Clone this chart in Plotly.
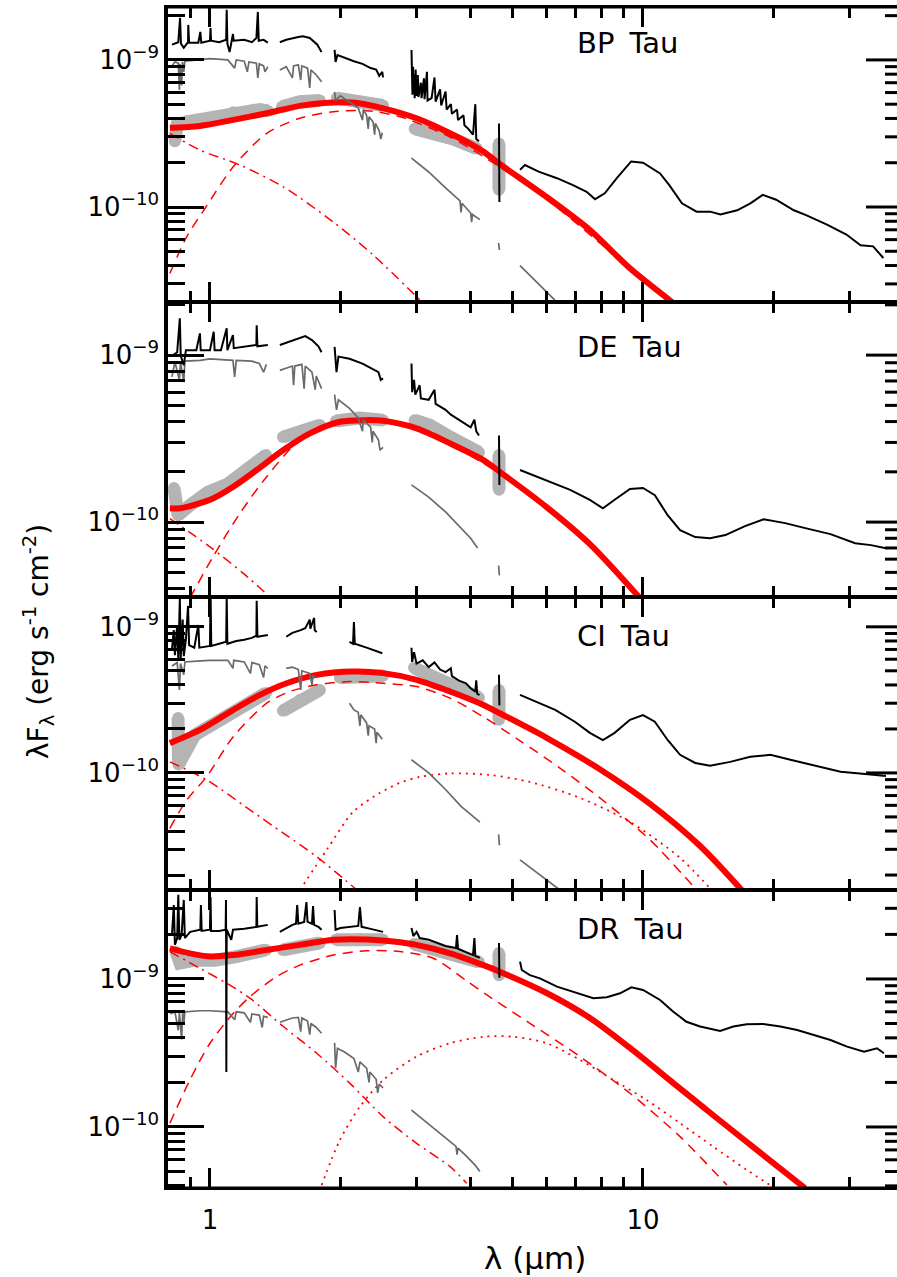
import math
import plotly.graph_objects as go
from plotly.subplots import make_subplots

# ---------------------------------------------------------------------------
# Spectral energy distributions of four T Tauri stars.
# Wavelength in micron, lambda*F_lambda in erg s^-1 cm^-2.
# Series are lists of (wavelength, flux) pairs; None breaks a line.
# ---------------------------------------------------------------------------
STARS = ["BP Tau", "DE Tau", "CI Tau", "DR Tau"]

WL_LIMITS = (0.8, 38.6)
FLUX_LIMITS = [(2.26e-11, 2.29e-9), (3.56e-11, 2.08e-9), (1.58e-11, 1.60e-9), (3.87e-11, 3.99e-9)]

X_MAJOR = [1, 10]
X_MAJOR_TEXT = ["1", "10"]
X_MINOR = [0.9, 2, 3, 4, 5, 6, 7, 8, 9, 20, 30]
Y_MAJOR = [1e-10, 1e-9]
Y_MAJOR_TEXT = ["10<sup>\u221210</sup>", "10<sup>\u22129</sup>"]

# ----------------------------- BP Tau --------------------------------------
BP_OBS = [
    (0.817, 1.27e-9), (0.845, 1.32e-9), (0.853, 1.93e-9), (0.857, 1.29e-9), (0.87, 1.21e-9),
    (0.89, 1.32e-9), (0.891, 1.73e-9), (0.895, 1.31e-9), (0.94, 1.31e-9), (0.95, 1.55e-9),
    (0.955, 1.31e-9), (1.0, 1.35e-9), (1.003, 1.65e-9), (1.006, 1.35e-9), (1.05, 1.32e-9),
    (1.09, 1.37e-9), (1.093, 2.19e-9), (1.097, 1.29e-9), (1.11, 1.13e-9), (1.12, 1.35e-9),
    (1.13, 1.50e-9), (1.135, 1.35e-9), (1.2, 1.37e-9), (1.25, 1.32e-9), (1.28, 1.41e-9),
    (1.29, 2.12e-9), (1.296, 1.35e-9), (1.33, 1.37e-9), (1.36, 1.31e-9),
    None,
    (1.45, 1.32e-9), (1.5, 1.37e-9), (1.6, 1.43e-9), (1.64, 1.45e-9), (1.7, 1.41e-9),
    (1.77, 1.27e-9), (1.81, 1.13e-9),
    None,
    (1.94, 1.17e-9), (1.95, 9.7e-10), (1.97, 1.08e-9), (2.05, 1.03e-9), (2.15, 9.8e-10),
    (2.25, 9.4e-10), (2.35, 8.8e-10), (2.42, 8.6e-10), (2.46, 7.8e-10), (2.5, 8.3e-10), (2.51, 7.6e-10),
    None,
    (2.92, 1.17e-9), (2.925, 6.2e-10), (2.93, 1.05e-9), (2.935, 5.8e-10), (2.945, 9.0e-10),
    (2.95, 6.0e-10), (2.96, 8.0e-10), (2.97, 5.5e-10), (2.985, 8.6e-10), (3.0, 5.7e-10),
    (3.02, 7.9e-10), (3.03, 5.6e-10), (3.07, 7.0e-10), (3.08, 5.5e-10), (3.12, 7.5e-10),
    (3.13, 5.4e-10), (3.17, 8.3e-10), (3.18, 5.3e-10), (3.25, 5.5e-10), (3.3, 7.6e-10),
    (3.32, 5.2e-10), (3.4, 6.3e-10), (3.42, 4.9e-10), (3.5, 6.1e-10), (3.52, 4.6e-10),
    (3.6, 5.0e-10), (3.62, 4.3e-10), (3.72, 4.6e-10), (3.74, 3.9e-10), (3.85, 4.2e-10),
    (3.87, 3.6e-10), (3.95, 3.4e-10), (4.05, 3.1e-10), (4.1, 5.0e-10), (4.12, 2.9e-10), (4.18, 2.8e-10),
    None,
    (4.65, 3.7e-10), (4.66, 1.08e-10),
    None,
    (5.2, 1.79e-10), (5.34, 1.93e-10), (5.74, 1.74e-10), (6.33, 1.57e-10), (6.89, 1.41e-10),
    (7.41, 1.27e-10), (7.75, 1.13e-10), (8.16, 1.24e-10), (8.7, 1.57e-10), (9.39, 2.04e-10),
    (10.0, 2.0e-10), (10.95, 1.69e-10), (11.5, 1.41e-10), (12.3, 1.06e-10), (13.3, 9.3e-11),
    (14.3, 9.3e-11), (15.1, 8.9e-11), (16.5, 9.5e-11), (17.7, 1.06e-10), (18.9, 1.21e-10),
    (20.3, 1.12e-10), (22.3, 9.5e-11), (23.8, 8.8e-11), (26.6, 7.6e-11), (29.5, 6.5e-11),
    (31.8, 5.5e-11), (34.0, 5.4e-11), (35.9, 4.5e-11),
]
BP_PHOT = [
    (0.817, 9.1e-10), (0.83, 9.7e-10), (0.845, 9.5e-10), (0.85, 6.25e-10), (0.853, 9.4e-10),
    (0.86, 6.7e-10), (0.864, 9.7e-10), (0.87, 8.3e-10), (0.875, 9.8e-10), (0.95, 1.0e-9),
    (1.0, 1.02e-9), (1.1, 1.0e-9), (1.14, 8.8e-10), (1.15, 1.0e-9), (1.2, 9.8e-10),
    (1.22, 8.3e-10), (1.23, 9.7e-10), (1.28, 9.5e-10), (1.29, 7.55e-10), (1.30, 9.4e-10),
    (1.33, 9.1e-10), (1.34, 8.3e-10), (1.36, 9.0e-10),
    None,
    (1.45, 8.55e-10), (1.5, 9.0e-10), (1.55, 7.55e-10), (1.56, 9.1e-10), (1.6, 9.25e-10),
    (1.62, 7.3e-10), (1.63, 9.1e-10), (1.68, 8.8e-10), (1.7, 6.45e-10), (1.71, 8.55e-10),
    (1.76, 7.9e-10), (1.81, 7.1e-10),
    None,
    (1.94, 6.05e-10), (1.95, 5.3e-10), (2.0, 5.7e-10), (2.1, 5.2e-10), (2.2, 4.7e-10),
    (2.25, 3.9e-10), (2.26, 4.6e-10), (2.3, 4.2e-10), (2.32, 3.4e-10), (2.33, 4.1e-10),
    (2.38, 3.8e-10), (2.4, 3.1e-10), (2.41, 3.7e-10), (2.46, 3.3e-10), (2.48, 2.9e-10), (2.5, 3.2e-10),
    None,
    (2.92, 2.15e-10), (3.2, 1.73e-10), (3.5, 1.35e-10), (3.78, 1.1e-10), (3.8, 9.2e-11),
    (3.82, 1.06e-10), (4.0, 9.1e-11), (4.02, 7.9e-11), (4.04, 8.9e-11), (4.2, 8.2e-11),
    None,
    (4.64, 5.7e-11), (4.66, 5.1e-11),
    None,
    (5.2, 4.0e-11), (6.26, 2.33e-11),
]
BP_EXCESS = [
    (0.83, 2.8e-10), (0.84, 3.6e-10), (0.884, 3.8e-10), (1.0, 4.05e-10), (1.132, 4.4e-10),
    (1.304, 4.6e-10), (1.361, 4.5e-10),
    None,
    (1.466, 4.8e-10), (1.613, 5.2e-10), (1.794, 5.3e-10),
    None,
    (1.963, 5.5e-10), (2.219, 5.2e-10), (2.51, 4.9e-10),
    None,
    (2.97, 3.4e-10), (3.27, 3.2e-10), (3.64, 2.9e-10), (4.13, 2.5e-10),
    None,
    (4.65, 2.7e-10), (4.651, 1.31e-10),
]
BP_TOTAL = [
    (0.808, 3.46e-10), (0.948, 3.56e-10), (1.132, 3.91e-10), (1.352, 4.34e-10), (1.613, 4.87e-10),
    (1.927, 5.13e-10), (2.141, 5.13e-10), (2.514, 4.69e-10), (3.0, 4.01e-10), (3.585, 3.17e-10),
    (4.28, 2.38e-10), (4.67, 1.96e-10), (5.99, 1.17e-10), (7.54, 6.98e-11), (9.33, 3.83e-11),
    (11.67, 2.26e-11),
]
BP_RIM = [
    (0.808, 3.54e-11), (0.884, 6.28e-11), (0.979, 1.0e-10), (1.132, 1.88e-10), (1.352, 3.17e-10),
    (1.613, 4.01e-10), (1.927, 4.45e-10), (2.30, 4.52e-10), (2.747, 4.11e-10), (3.585, 2.99e-10),
    (4.67, 1.87e-10), (5.99, 1.13e-10), (7.95, 5.69e-11), (11.67, 2.19e-11),
]
BP_HOT = [
    (0.808, 3.17e-10), (0.948, 2.44e-10), (1.173, 1.93e-10), (1.477, 1.37e-10), (1.927, 7.9e-11),
    (2.383, 4.71e-11), (3.055, 2.33e-11),
]
BP_COOL = []

# ----------------------------- DE Tau --------------------------------------
DE_OBS = [
    (0.817, 9.9e-10), (0.84, 1.04e-9), (0.852, 1.66e-9), (0.856, 9.9e-10), (0.87, 8.7e-10),
    (0.88, 1.07e-9), (0.93, 1.07e-9), (0.948, 1.35e-9), (0.952, 1.07e-9), (1.0, 1.07e-9),
    (1.02, 1.38e-9), (1.025, 1.07e-9), (1.06, 1.07e-9), (1.093, 1.45e-9), (1.097, 1.07e-9),
    (1.13, 1.32e-9), (1.135, 1.1e-9), (1.2, 1.12e-9), (1.28, 1.15e-9), (1.282, 1.51e-9),
    (1.287, 1.13e-9), (1.36, 1.15e-9),
    None,
    (1.45, 1.15e-9), (1.52, 1.2e-9), (1.6, 1.26e-9), (1.66, 1.3e-9), (1.72, 1.23e-9),
    (1.78, 1.13e-9), (1.81, 1.04e-9),
    None,
    (1.94, 1.12e-9), (1.96, 7.9e-10), (1.98, 9.8e-10), (2.1, 9.5e-10), (2.25, 8.9e-10),
    (2.4, 8.1e-10), (2.45, 7.9e-10), (2.48, 7.1e-10), (2.51, 7.25e-10),
    None,
    (2.92, 8.9e-10), (2.93, 6.0e-10), (2.96, 7.1e-10), (2.98, 5.8e-10), (3.05, 6.6e-10),
    (3.07, 5.5e-10), (3.2, 5.4e-10), (3.3, 6.2e-10), (3.32, 5.1e-10), (3.5, 4.7e-10),
    (3.6, 4.4e-10), (3.8, 4.0e-10), (4.0, 3.7e-10), (4.08, 4.1e-10), (4.12, 3.5e-10), (4.18, 3.3e-10),
    None,
    (4.65, 3.3e-10), (4.66, 1.67e-10),
    None,
    (5.2, 2.05e-10), (5.48, 1.94e-10), (6.1, 1.74e-10), (6.79, 1.56e-10), (7.54, 1.36e-10),
    (8.08, 1.21e-10), (8.6, 1.36e-10), (9.33, 1.58e-10), (10.0, 1.6e-10), (10.65, 1.45e-10),
    (11.4, 1.1e-10), (12.18, 8.95e-11), (13.2, 8.13e-11), (14.29, 8.0e-11), (15.5, 8.36e-11),
    (17.2, 9.46e-11), (19.0, 1.04e-10), (21.3, 9.86e-11), (23.7, 9.2e-11), (27.1, 8.47e-11),
    (30.9, 7.48e-11), (33.6, 7.28e-11), (36.4, 6.98e-11),
]
DE_PHOT = [
    (0.817, 7.4e-10), (0.83, 9.1e-10), (0.85, 7.1e-10), (0.855, 9.1e-10), (0.87, 6.9e-10),
    (0.875, 9.2e-10), (0.95, 9.3e-10), (1.0, 9.5e-10), (1.13, 9.3e-10), (1.14, 7.4e-10),
    (1.15, 9.3e-10), (1.25, 9.2e-10), (1.3, 8.9e-10), (1.33, 7.9e-10), (1.35, 8.8e-10),
    None,
    (1.45, 8.1e-10), (1.55, 8.6e-10), (1.56, 6.6e-10), (1.57, 8.6e-10), (1.63, 8.8e-10),
    (1.65, 6.3e-10), (1.66, 8.6e-10), (1.72, 7.9e-10), (1.75, 6.2e-10), (1.76, 7.5e-10), (1.81, 6.3e-10),
    None,
    (1.94, 5.8e-10), (1.96, 4.7e-10), (1.98, 5.4e-10), (2.1, 4.8e-10), (2.2, 4.2e-10),
    (2.25, 3.5e-10), (2.26, 4.1e-10), (2.35, 3.7e-10), (2.37, 3.0e-10), (2.38, 3.5e-10),
    (2.45, 3.1e-10), (2.47, 2.7e-10), (2.51, 2.8e-10),
    None,
    (2.92, 1.67e-10), (3.2, 1.41e-10), (3.5, 1.15e-10), (3.8, 9.2e-11), (4.0, 8.0e-11), (4.15, 7.0e-11),
    None,
    (4.64, 5.5e-11), (4.66, 4.8e-11),
]
DE_EXCESS = [
    (0.826, 1.6e-10), (0.844, 1.1e-10), (0.899, 1.26e-10), (0.989, 1.51e-10), (1.1, 1.69e-10),
    (1.224, 2.11e-10), (1.347, 2.52e-10),
    None,
    (1.474, 3.23e-10), (1.613, 3.46e-10), (1.794, 3.81e-10),
    None,
    (1.954, 4.03e-10), (2.219, 4.2e-10), (2.51, 4.08e-10),
    None,
    (2.97, 4.08e-10), (3.22, 3.81e-10), (3.585, 3.23e-10), (4.18, 2.62e-10),
    None,
    (4.65, 2.52e-10), (4.651, 1.56e-10),
]
DE_TOTAL = [
    (0.808, 1.21e-10), (0.853, 1.21e-10), (1.0, 1.36e-10), (1.132, 1.63e-10), (1.282, 2.05e-10),
    (1.477, 2.70e-10), (1.701, 3.40e-10), (1.996, 3.99e-10), (2.30, 4.08e-10), (2.514, 4.04e-10),
    (3.0, 3.64e-10), (3.585, 2.96e-10), (4.28, 2.35e-10), (4.67, 2.0e-10), (5.99, 1.23e-10),
    (7.54, 7.38e-11), (9.79, 3.56e-11),
]
DE_RIM = [
    (0.899, 3.51e-11), (1.018, 6.25e-11), (1.173, 1.13e-10), (1.352, 1.87e-10), (1.613, 3.1e-10),
    (1.927, 3.81e-10), (2.30, 4.03e-10), (3.0, 3.6e-10), (3.585, 2.91e-10), (4.67, 1.96e-10),
    (5.99, 1.21e-10), (7.54, 7.28e-11), (9.84, 3.5e-11),
]
DE_HOT = [
    (0.808, 1.05e-10), (1.0, 7.11e-11), (1.194, 4.93e-11), (1.376, 3.56e-11),
]
DE_COOL = []

# ----------------------------- CI Tau --------------------------------------
CI_OBS = [
    (0.817, 7.0e-10), (0.825, 9.5e-10), (0.83, 6.4e-10), (0.84, 1.03e-9), (0.845, 5.9e-10),
    (0.852, 1.58e-9), (0.856, 6.1e-10), (0.865, 1.12e-9), (0.87, 6.3e-10), (0.88, 8.2e-10),
    (0.89, 1.39e-9), (0.895, 7.5e-10), (0.92, 7.2e-10), (0.94, 1.03e-9), (0.945, 7.2e-10),
    (1.0, 7.4e-10), (1.003, 1.79e-9), (1.007, 7.4e-10), (1.05, 7.65e-10), (1.09, 7.9e-10),
    (1.093, 1.63e-9), (1.097, 7.65e-10), (1.15, 8.0e-10), (1.2, 8.15e-10), (1.25, 8.4e-10),
    (1.28, 8.7e-10), (1.282, 1.51e-9), (1.287, 8.55e-10), (1.36, 8.8e-10),
    None,
    (1.5, 8.55e-10), (1.55, 9.1e-10), (1.62, 9.5e-10), (1.66, 9.8e-10), (1.7, 1.12e-9),
    (1.705, 9.7e-10), (1.74, 1.15e-9), (1.745, 9.5e-10), (1.764, 9.2e-10),
    None,
    (2.1, 7.9e-10), (2.14, 7.65e-10), (2.15, 1.08e-9), (2.16, 7.65e-10), (2.3, 7.2e-10),
    (2.4, 6.85e-10), (2.5, 6.6e-10),
    None,
    (2.92, 7.2e-10), (2.93, 5.75e-10), (2.96, 6.7e-10), (3.0, 5.6e-10), (3.1, 5.9e-10),
    (3.2, 5.3e-10), (3.3, 5.7e-10), (3.4, 5.1e-10), (3.5, 4.9e-10), (3.6, 5.2e-10),
    (3.62, 4.6e-10), (3.75, 4.3e-10), (3.9, 4.1e-10), (4.0, 3.8e-10), (4.1, 3.6e-10),
    (4.12, 4.3e-10), (4.14, 3.5e-10), (4.19, 3.4e-10),
    None,
    (4.65, 4.7e-10), (4.66, 2.9e-10),
    None,
    (5.2, 3.42e-10), (5.62, 3.11e-10), (6.27, 2.7e-10), (6.96, 2.24e-10), (7.54, 1.88e-10),
    (8.08, 1.68e-10), (8.6, 1.88e-10), (9.33, 2.31e-10), (10.0, 2.49e-10), (10.65, 2.24e-10),
    (11.4, 1.68e-10), (12.18, 1.33e-10), (13.2, 1.17e-10), (14.29, 1.12e-10), (15.9, 1.19e-10),
    (17.69, 1.29e-10), (19.68, 1.33e-10), (21.9, 1.23e-10), (25.0, 1.12e-10), (28.6, 1.02e-10),
    (32.6, 9.84e-11), (36.4, 9.53e-11),
]
CI_PHOT = [
    (0.817, 5.4e-10), (0.84, 5.7e-10), (0.85, 3.7e-10), (0.855, 5.6e-10), (0.87, 4.7e-10),
    (0.875, 5.75e-10), (0.95, 5.85e-10), (1.0, 5.9e-10), (1.1, 5.9e-10), (1.13, 5.2e-10),
    (1.135, 5.9e-10), (1.2, 5.75e-10), (1.24, 4.8e-10), (1.25, 5.7e-10), (1.3, 5.5e-10),
    (1.33, 4.5e-10), (1.34, 5.4e-10), (1.36, 5.2e-10),
    None,
    (1.5, 5.2e-10), (1.55, 5.3e-10), (1.6, 5.1e-10), (1.62, 3.7e-10), (1.63, 5.0e-10),
    (1.7, 4.8e-10), (1.72, 4.0e-10), (1.73, 4.6e-10), (1.76, 4.5e-10),
    None,
    (2.1, 3.0e-10), (2.15, 2.7e-10), (2.2, 2.6e-10), (2.22, 2.1e-10), (2.23, 2.5e-10),
    (2.3, 2.2e-10), (2.32, 1.8e-10), (2.33, 2.1e-10), (2.4, 2.0e-10), (2.42, 1.6e-10),
    (2.43, 1.9e-10), (2.5, 1.7e-10),
    None,
    (2.92, 1.23e-10), (3.2, 1.0e-10), (3.5, 7.7e-11), (3.8, 5.9e-11), (4.0, 5.2e-11), (4.2, 4.6e-11),
    None,
    (4.64, 3.8e-11), (4.66, 3.2e-11),
    None,
    (5.2, 2.54e-11), (6.43, 1.58e-11),
]
CI_EXCESS = [
    (0.844, 2.38e-10), (0.846, 1.14e-10), (0.923, 1.82e-10), (1.027, 2.2e-10), (1.142, 2.62e-10),
    (1.27, 3.16e-10), (1.347, 3.53e-10),
    None,
    (1.474, 2.66e-10), (1.613, 3.16e-10), (1.794, 3.7e-10),
    None,
    (1.996, 4.48e-10), (2.219, 4.55e-10), (2.51, 4.62e-10),
    None,
    (2.96, 5.24e-10), (3.22, 4.62e-10), (3.585, 4.07e-10), (4.18, 3.27e-10),
    None,
    (4.65, 3.7e-10), (4.651, 2.31e-10),
]
CI_TOTAL = [
    (0.808, 1.6e-10), (0.948, 1.97e-10), (1.132, 2.7e-10), (1.304, 3.42e-10), (1.503, 4.11e-10),
    (1.764, 4.69e-10), (2.141, 4.94e-10), (2.514, 4.82e-10), (3.0, 4.34e-10), (3.585, 3.61e-10),
    (4.28, 2.92e-10), (4.67, 2.56e-10), (5.99, 1.74e-10), (7.95, 1.06e-10), (10.38, 6.14e-11),
    (13.55, 3.16e-11), (16.9, 1.58e-11),
]
CI_RIM = [
    (0.808, 4.18e-11), (0.884, 6.53e-11), (0.983, 9.44e-11), (1.132, 1.77e-10), (1.352, 3.0e-10),
    (1.53, 3.61e-10), (1.764, 4.01e-10), (2.105, 4.22e-10), (2.514, 4.11e-10), (3.0, 3.9e-10),
    (3.585, 3.25e-10), (4.28, 2.42e-10), (5.2, 1.66e-10), (6.43, 1.08e-10), (7.95, 6.75e-11),
    (10.38, 3.48e-11), (13.3, 1.58e-11),
]
CI_HOT = [
    (0.808, 1.19e-10), (0.983, 8.95e-11), (1.237, 5.58e-11), (1.477, 3.87e-11), (1.764, 2.67e-11),
    (2.174, 1.6e-11),
]
CI_COOL = [
    (1.613, 1.58e-11), (1.86, 2.97e-11), (2.141, 5.41e-11), (2.47, 7.3e-11), (2.747, 8.55e-11),
    (3.055, 9.4e-11), (3.585, 9.93e-11), (4.43, 9.68e-11), (5.48, 8.67e-11), (7.15, 6.75e-11),
    (9.33, 4.62e-11), (12.18, 2.62e-11), (14.4, 1.58e-11),
]

# ----------------------------- DR Tau --------------------------------------
DR_OBS = [
    (0.817, 1.98e-9), (0.825, 3.16e-9), (0.83, 1.7e-9), (0.84, 1.89e-9), (0.845, 3.7e-9),
    (0.85, 1.84e-9), (0.86, 1.98e-9), (0.87, 3.42e-9), (0.875, 1.89e-9), (0.9, 2.08e-9),
    (0.95, 2.15e-9), (0.953, 3.16e-9), (0.957, 2.11e-9), (1.0, 2.15e-9), (1.003, 3.58e-9),
    (1.006, 2.11e-9), (1.05, 2.11e-9), (1.087, 2.15e-9), (1.089, 3.42e-9), (1.091, 2.35e-10),
    (1.093, 2.15e-9), (1.12, 1.84e-9), (1.13, 2.15e-9), (1.2, 2.18e-9), (1.28, 2.25e-9),
    (1.282, 3.58e-9), (1.286, 2.25e-9), (1.36, 2.32e-9),
    None,
    (1.45, 2.08e-9), (1.5, 2.21e-9), (1.55, 2.32e-9), (1.58, 2.36e-9), (1.59, 3.16e-9),
    (1.6, 2.36e-9), (1.65, 2.43e-9), (1.67, 3.31e-9), (1.68, 2.43e-9), (1.72, 2.36e-9),
    (1.73, 3.11e-9), (1.74, 2.32e-9), (1.78, 2.25e-9), (1.81, 2.15e-9),
    None,
    (1.94, 2.92e-9), (1.95, 2.15e-9), (2.0, 2.21e-9), (2.1, 2.25e-9), (2.2, 2.28e-9),
    (2.22, 3.06e-9), (2.24, 2.25e-9), (2.35, 2.18e-9), (2.45, 2.11e-9), (2.51, 2.08e-9),
    None,
    (2.92, 2.21e-9), (2.95, 1.95e-9), (3.0, 2.08e-9), (3.05, 1.89e-9), (3.2, 1.84e-9),
    (3.35, 1.75e-9), (3.5, 1.67e-9), (3.7, 1.62e-9), (3.72, 1.98e-9), (3.74, 1.6e-9),
    (3.9, 1.52e-9), (4.05, 1.45e-9), (4.08, 1.89e-9), (4.1, 1.43e-9), (4.2, 1.39e-9),
    None,
    (4.65, 1.75e-9), (4.66, 1.02e-9),
    None,
    (5.2, 1.31e-9), (5.25, 1.15e-9), (5.48, 1.06e-9), (5.78, 1.01e-9), (6.33, 8.87e-10),
    (6.71, 8.43e-10), (7.15, 7.92e-10), (7.68, 7.41e-10), (8.25, 7.52e-10), (8.85, 8.0e-10),
    (9.4, 8.79e-10), (10.0, 8.43e-10), (10.95, 7.21e-10), (11.75, 6.01e-10), (12.6, 5.14e-10),
    (13.55, 4.77e-10), (15.07, 4.45e-10), (16.16, 4.77e-10), (17.36, 4.94e-10), (18.95, 4.97e-10),
    (20.76, 4.77e-10), (22.7, 4.52e-10), (24.8, 4.18e-10), (27.1, 3.87e-10), (29.6, 3.49e-10),
    (32.4, 3.23e-10), (34.7, 3.4e-10), (36.0, 3.15e-10),
]
DR_PHOT = [
    (0.81, 5.8e-10), (0.83, 6.0e-10), (0.845, 4.5e-10), (0.85, 5.9e-10), (0.86, 3.9e-10),
    (0.865, 5.9e-10), (0.87, 4.9e-10), (0.875, 6.0e-10), (0.95, 6.1e-10), (1.0, 6.1e-10),
    (1.1, 6.0e-10), (1.14, 5.3e-10), (1.15, 6.0e-10), (1.2, 5.9e-10), (1.24, 5.1e-10),
    (1.25, 5.8e-10), (1.3, 5.7e-10), (1.32, 4.7e-10), (1.33, 5.6e-10), (1.36, 5.5e-10),
    None,
    (1.45, 5.1e-10), (1.55, 5.45e-10), (1.6, 5.5e-10), (1.62, 4.4e-10), (1.63, 5.45e-10),
    (1.68, 5.2e-10), (1.7, 4.2e-10), (1.71, 5.0e-10), (1.76, 4.7e-10), (1.81, 4.3e-10),
    None,
    (1.94, 3.7e-10), (1.95, 2.5e-10), (1.97, 3.4e-10), (2.05, 3.2e-10), (2.15, 2.9e-10),
    (2.2, 2.35e-10), (2.22, 2.75e-10), (2.3, 2.5e-10), (2.33, 2.0e-10), (2.34, 2.35e-10),
    (2.42, 2.1e-10), (2.44, 1.7e-10), (2.46, 1.95e-10), (2.51, 1.84e-10),
    None,
    (2.92, 1.3e-10), (3.2, 1.05e-10), (3.5, 8.4e-11), (3.7, 7.4e-11), (3.72, 6.5e-11),
    (3.74, 7.2e-11), (3.9, 6.4e-11), (4.1, 5.5e-11), (4.2, 5.0e-11),
]
DR_EXCESS = [
    (0.835, 1.52e-9), (0.853, 1.28e-9), (0.923, 1.34e-9), (1.027, 1.34e-9), (1.142, 1.41e-9),
    (1.27, 1.52e-9), (1.347, 1.57e-9),
    None,
    (1.474, 1.57e-9), (1.613, 1.67e-9), (1.794, 1.75e-9),
    None,
    (1.954, 1.84e-9), (2.219, 1.86e-9), (2.51, 1.84e-9),
    None,
    (2.96, 1.72e-9), (3.22, 1.62e-9), (3.585, 1.5e-9), (4.18, 1.3e-9),
    None,
    (4.65, 1.5e-9), (4.651, 1.06e-9),
]
DR_TOTAL = [
    (0.808, 1.61e-9), (0.899, 1.49e-9), (1.0, 1.42e-9), (1.132, 1.45e-9), (1.352, 1.57e-9),
    (1.613, 1.7e-9), (1.927, 1.84e-9), (2.30, 1.85e-9), (2.65, 1.79e-9), (3.0, 1.7e-9),
    (3.585, 1.49e-9), (4.28, 1.24e-9), (4.67, 1.12e-9), (5.99, 8.04e-10), (7.54, 5.45e-10),
    (9.33, 3.42e-10), (11.75, 1.98e-10), (14.53, 1.2e-10), (18.31, 7.0e-11), (23.66, 3.87e-11),
]
DR_RIM = [
    (0.808, 1.06e-10), (0.899, 2.08e-10), (1.0, 3.68e-10), (1.132, 5.86e-10), (1.237, 7.59e-10),
    (1.426, 1.04e-9), (1.613, 1.24e-9), (1.927, 1.45e-9), (2.30, 1.55e-9), (2.747, 1.53e-9),
    (3.28, 1.38e-9), (3.915, 9.7e-10), (4.36, 7.8e-10), (5.48, 5.02e-10), (7.15, 2.99e-10),
    (9.33, 1.69e-10), (12.18, 8.6e-11), (15.62, 4.05e-11),
]
DR_HOT = [
    (0.808, 1.53e-9), (0.948, 1.18e-9), (1.093, 9.35e-10), (1.237, 7.41e-10), (1.477, 4.77e-10),
    (1.764, 3.15e-10), (2.105, 1.97e-10), (2.514, 1.17e-10), (3.0, 7.76e-11), (3.585, 5.4e-11),
    (3.915, 4.17e-11),
]
DR_COOL = [
    (1.811, 4.05e-11), (1.996, 8.17e-11), (2.219, 1.37e-10), (2.514, 2.08e-10), (3.0, 2.99e-10),
    (3.585, 3.68e-10), (4.28, 4.07e-10), (5.02, 4.07e-10), (5.99, 3.68e-10), (7.15, 2.84e-10),
    (8.54, 2.08e-10), (10.2, 1.52e-10), (12.18, 1.06e-10), (14.53, 7.36e-11), (17.36, 5.13e-11),
    (19.65, 4.05e-11),
]

PANELS = [
    dict(obs=BP_OBS, phot=BP_PHOT, excess=BP_EXCESS, total=BP_TOTAL, rim=BP_RIM, hot=BP_HOT, cool=BP_COOL),
    dict(obs=DE_OBS, phot=DE_PHOT, excess=DE_EXCESS, total=DE_TOTAL, rim=DE_RIM, hot=DE_HOT, cool=DE_COOL),
    dict(obs=CI_OBS, phot=CI_PHOT, excess=CI_EXCESS, total=CI_TOTAL, rim=CI_RIM, hot=CI_HOT, cool=CI_COOL),
    dict(obs=DR_OBS, phot=DR_PHOT, excess=DR_EXCESS, total=DR_TOTAL, rim=DR_RIM, hot=DR_HOT, cool=DR_COOL),
]

# ----------------------------- layout geometry -----------------------------
W, H = 897, 1277
ML, MR, MT, MB = 168, 0, 7, 89
EDGES = [7, 302, 597, 890, 1188]          # panel boundaries (px from top)
PLOT_W = W - ML - MR
PLOT_H = H - MT - MB
FONT = "DejaVu Sans"
RED = "#ff0000"


def unzip(series):
    xs, ys = [], []
    for p in series:
        if p is None:
            xs.append(None)
            ys.append(None)
        else:
            xs.append(p[0])
            ys.append(p[1])
    return xs, ys


def py(px):
    """paper y for a pixel row"""
    return (H - MB - px) / PLOT_H


def pxx(px):
    """paper x for a pixel column"""
    return (px - ML) / PLOT_W


fig = make_subplots(rows=4, cols=1, shared_xaxes=True, vertical_spacing=0)

STYLES = [
    ("excess", dict(mode="lines+markers", line=dict(color="#b4b4b4", width=13),
                    marker=dict(color="#b4b4b4", size=12))),
    ("hot", dict(mode="lines", line=dict(color=RED, width=1.5, dash="10px,5px,2px,5px",
                                         shape="spline", smoothing=0.8))),
    ("rim", dict(mode="lines", line=dict(color=RED, width=1.5, dash="10px,7px",
                                         shape="spline", smoothing=0.8))),
    ("cool", dict(mode="lines", line=dict(color=RED, width=1.8, dash="2px,5px",
                                          shape="spline", smoothing=0.8))),
    ("total", dict(mode="lines", line=dict(color=RED, width=6, shape="spline", smoothing=0.8))),
    ("phot", dict(mode="lines", line=dict(color="#6a6a6a", width=1.7))),
    ("obs", dict(mode="lines", line=dict(color="black", width=2))),
]

for i, panel in enumerate(PANELS):
    for key, style in STYLES:
        series = panel[key]
        if not series:
            continue
        xs, ys = unzip(series)
        fig.add_trace(go.Scatter(x=xs, y=ys, showlegend=False, hoverinfo="skip",
                                 connectgaps=False, **style), row=i + 1, col=1)

# ----------------------------- axes -----------------------------------------
shapes = []
annotations = []
for i in range(4):
    lo, hi = FLUX_LIMITS[i]
    ymaj = [v for v in Y_MAJOR if lo <= v <= hi]
    ytxt = [t for v, t in zip(Y_MAJOR, Y_MAJOR_TEXT) if lo <= v <= hi]
    ymin = []
    for dec in (1e-11, 1e-10, 1e-9):
        for k in range(2, 10):
            v = k * dec
            if lo <= v <= hi:
                ymin.append(v)
    top, bot = EDGES[i], EDGES[i + 1]
    sfx = "" if i == 0 else str(i + 1)
    fig.update_layout(**{
        f"yaxis{sfx}": dict(
            type="log", range=[math.log10(lo), math.log10(hi)], domain=[py(bot), py(top)],
            showline=True, linecolor="black", linewidth=3.5, mirror=False,
            ticks="inside", ticklen=36, tickwidth=3, tickcolor="black",
            tickvals=ymaj, ticktext=ytxt, showgrid=False, zeroline=False,
            tickfont=dict(family=FONT, size=26, color="black"),
            minor=dict(tickvals=ymin, ticks="inside", ticklen=17, tickwidth=3,
                       tickcolor="black", showgrid=False),
        ),
        f"xaxis{sfx}": dict(
            type="log", range=[math.log10(WL_LIMITS[0]), math.log10(WL_LIMITS[1])],
            showline=True, linecolor="black", linewidth=2, mirror="allticks",
            ticks="inside", ticklen=20, tickwidth=3, tickcolor="black",
            tickvals=X_MAJOR, ticktext=X_MAJOR_TEXT, showticklabels=(i == 3),
            ticklabelstandoff=8,
            showgrid=False, zeroline=False,
            tickfont=dict(family=FONT, size=26, color="black"),
            minor=dict(tickvals=X_MINOR, ticks="inside", ticklen=11, tickwidth=3,
                       tickcolor="black", showgrid=False),
        ),
    })
    # ticks along the right-hand edge
    yref = "y" if i == 0 else f"y{i + 1}"
    for v in ymaj:
        shapes.append(dict(type="line", xref="paper", yref=yref, x0=1 - 31 / PLOT_W, x1=1,
                           y0=v, y1=v, line=dict(color="black", width=3)))
    for v in ymin:
        shapes.append(dict(type="line", xref="paper", yref=yref, x0=1 - 12 / PLOT_W, x1=1,
                           y0=v, y1=v, line=dict(color="black", width=3)))
    # star name
    label_y = [43, 347, 636, 929][i]
    name = STARS[i].replace(" ", " \u2009")
    annotations.append(dict(text=name, xref="paper", yref="paper", x=pxx(575), y=py(label_y),
                            xanchor="left", yanchor="middle", showarrow=False,
                            font=dict(family=FONT, size=29, color="black")))

# heavier outer frame (top and bottom edges)
shapes.append(dict(type="line", xref="paper", yref="paper", x0=0, x1=1, y0=1, y1=1,
                   line=dict(color="black", width=3)))
shapes.append(dict(type="line", xref="paper", yref="paper", x0=0, x1=1, y0=0, y1=0,
                   line=dict(color="black", width=3)))

annotations.append(dict(text="\u03bbF<sub>\u03bb</sub> (erg s<sup>-1</sup> cm<sup>-2</sup>)",
                        xref="paper", yref="paper", x=pxx(38), y=py(642), textangle=-90,
                        xanchor="center", yanchor="middle", showarrow=False,
                        font=dict(family=FONT, size=28, color="black")))
annotations.append(dict(text="\u03bb (\u03bcm)", xref="paper", yref="paper", x=pxx(535), y=py(1258),
                        xanchor="center", yanchor="middle", showarrow=False,
                        font=dict(family=FONT, size=31, color="black")))

fig.update_layout(
    width=W, height=H, margin=dict(l=ML, r=MR, t=MT, b=MB, pad=0),
    paper_bgcolor="white", plot_bgcolor="white",
    font=dict(family=FONT, color="black"),
    shapes=shapes, annotations=annotations, showlegend=False,
)

fig.write_html("out.html")
